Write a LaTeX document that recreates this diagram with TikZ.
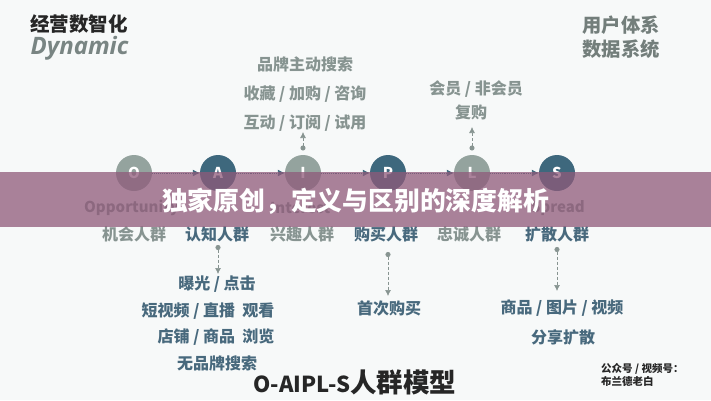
\documentclass[tikz,border=0pt]{standalone}
\usepackage{fontspec}
\setmainfont{Noto Sans CJK SC}
\newfontfamily\latinfont{Open Sans}
\usetikzlibrary{arrows.meta}
\definecolor{pagebg}{RGB}{247,249,249}
\definecolor{grayring}{RGB}{148,163,158}
\definecolor{bluering}{RGB}{62,104,125}
\definecolor{graytext}{RGB}{135,148,145}
\definecolor{bluetext}{RGB}{72,105,125}
\definecolor{bandcol}{RGB}{143,90,122}
\tikzset{
	stage/.style={circle, minimum size=36pt, inner sep=0pt, text=white, font=\bfseries\fontsize{15}{15}\selectfont},
	flow/.style={densely dotted, line width=0.9pt, draw=bluering, -{Latex[length=7pt,width=7pt]}},
	drop/.style={densely dashed, line width=0.7pt, draw=graytext, {Circle[length=5pt]}-{Latex[length=6pt,width=6pt]}},
	lab/.style={font=\bfseries\fontsize{16}{16}\selectfont, inner sep=0pt},
	enlab/.style={font=\bfseries\fontsize{15}{15}\selectfont, inner sep=0pt, text=graytext},
}
\newcommand{\stagelabel}[4]{   % name, x, y, text
	\node[lab, text=graytext] (#1) at (#2, #3) {#4};
}
\begin{document}
\begin{tikzpicture}[x=1pt, y=-1pt]
\useasboundingbox (0,0) rectangle (711,400);
\fill[pagebg] (0,0) rectangle (711,400);

% headings
\node[font=\bfseries\fontsize{19.5}{19.5}\selectfont, text=black!85, inner sep=0pt] (title) at (79,24) {经营数智化};
\node[font=\latinfont\bfseries\itshape\fontsize{24}{24}\selectfont, text=graytext!90!black, inner sep=0pt] (dyn) at (79.5,48) {Dynamic};
\node[font=\bfseries\fontsize{19.3}{19.3}\selectfont, text=graytext!85!black, inner sep=0pt] (sysa) at (621,25) {用户体系};
\node[font=\bfseries\fontsize{19.3}{19.3}\selectfont, text=graytext!85!black, inner sep=0pt] (sysb) at (621,49) {数据系统};

% stages
\node[stage, fill=grayring] (o) at (134,173) {O};
\node[stage, fill=bluering] (a) at (218,173) {A};
\node[stage, fill=grayring] (i) at (303,173) {I};
\node[stage, fill=bluering] (p) at (388,173) {P};
\node[stage, fill=grayring] (l) at (472,173) {L};
\node[stage, fill=bluering] (s) at (557,173) {S};
\foreach \from/\to in {o/a, a/i, i/p, p/l, l/s}
	\draw[flow] (\from) -- (\to);

% upper labels
\stagelabel{ua}{305}{64}{品牌主动搜索}
\stagelabel{ub}{305}{94}{收藏 / 加购 / 咨询}
\stagelabel{uc}{305}{123}{互动 / 订阅 / 试用}
\stagelabel{ud}{476}{89}{会员 / 非会员}
\stagelabel{ue}{471}{112}{复购}
\coordinate (idot) at (303,150.5);
\coordinate (itip) at (303,132);
\coordinate (ldot) at (472,150.5);
\coordinate (ltip) at (472,127);
\draw[drop] (idot) -- (itip);
\draw[drop] (ldot) -- (ltip);

% english row
\node[enlab, anchor=west] (eno) at (84,208) {Opportunity};
\node[enlab, anchor=west] (eni) at (270,208) {Interest};
\node[enlab, anchor=east] (ens) at (585,208) {Spread};

% crowd row
\stagelabel{co}{134}{234}{机会人群}
\node[lab, text=bluetext] (ca) at (217,234) {认知人群};
\stagelabel{ci}{302}{234}{兴趣人群}
\node[lab, text=bluetext] (cp) at (386,234) {购买人群};
\stagelabel{cl}{469}{234}{忠诚人群}
\node[lab, text=bluetext] (cs) at (557,234) {扩散人群};

% lower labels
\node[lab, text=bluetext] (la) at (217,284) {曝光 / 点击};
\node[lab, text=bluetext] (lb) at (208,311) {短视频 / 直播 ~观看};
\node[lab, text=bluetext] (lc) at (216,337) {店铺 / 商品 ~浏览};
\node[lab, text=bluetext] (ld) at (217,363) {无品牌搜索};
\node[lab, text=bluetext] (le) at (389,308) {首次购买};
\node[lab, text=bluetext] (lf) at (562,308) {商品 / 图片 / 视频};
\node[lab, text=bluetext] (lg) at (563,337) {分享扩散};
\coordinate (adot) at (218,245);
\coordinate (atip) at (218,274);
\coordinate (pdot) at (388,252);
\coordinate (ptip) at (388,296);
\coordinate (sdot) at (557,247);
\coordinate (stip) at (557,291);
\draw[drop] (adot) -- (atip);
\draw[drop] (pdot) -- (ptip);
\draw[drop] (sdot) -- (stip);

% bottom
\node[font=\bfseries\fontsize{26.5}{26.5}\selectfont, text=black!85, inner sep=0pt] (model) at (355,382) {\fontsize{22}{22}\selectfont O-AIPL-S\fontsize{26.5}{26.5}\selectfont 人群模型};
\node[font=\bfseries\fontsize{10.5}{13}\selectfont, text=black!85, inner sep=0pt, align=left, anchor=west] (credit) at (601,375) {公众号 / 视频号：\\布兰德老白};

% band
\fill[bandcol, fill opacity=0.75] (0,172) rectangle (711,227);
\node[font=\bfseries\fontsize{25.8}{25.8}\selectfont, text=white, inner sep=0pt] (banner) at (355.5,201) {独家原创，定义与区别的深度解析};
\end{tikzpicture}
\end{document}
